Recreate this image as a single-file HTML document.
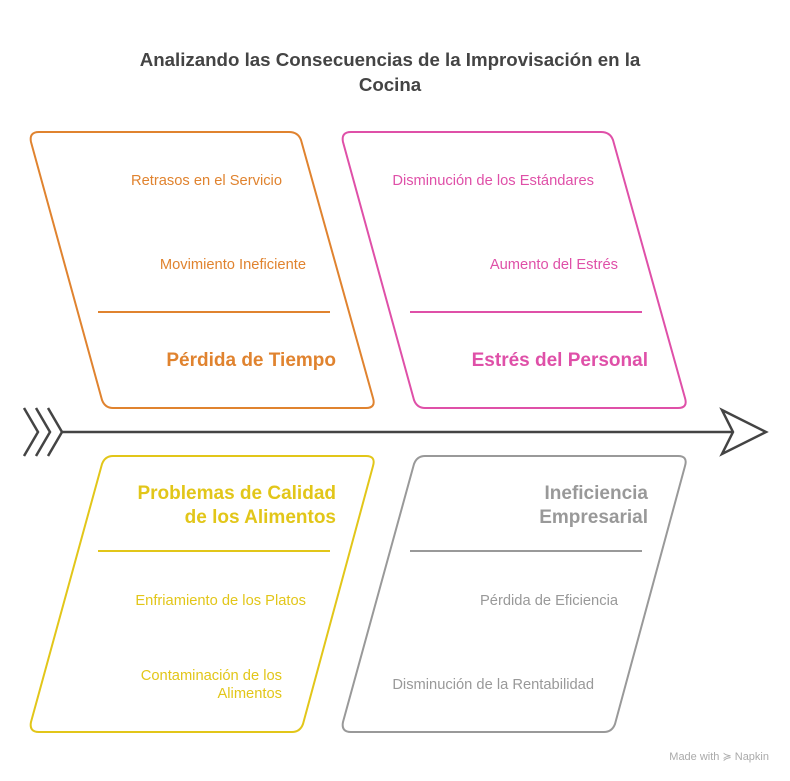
<!DOCTYPE html>
<html><head><meta charset="utf-8"><style>
html,body{margin:0;padding:0;background:#fff;}
svg{display:block;font-family:"Liberation Sans",Arial,sans-serif;}
</style></head><body>
<svg width="790" height="781" viewBox="0 0 790 781" xmlns="http://www.w3.org/2000/svg">
<text x="390" y="66" text-anchor="middle" font-size="18.7" font-weight="bold" fill="#444">Analizando las Consecuencias de la Improvisación en la</text>
<text x="390" y="91" text-anchor="middle" font-size="18.7" font-weight="bold" fill="#444">Cocina</text>

<g fill="none" stroke-width="2" stroke-linejoin="round">
<path d="M39 132 L289 132 Q298 132 301 140 L373 398 Q376 408 366 408 L113 408 Q105 408 102 400 L31 142 Q29 132 39 132 Z" stroke="#E0832F"/>
<path d="M351 132 L601 132 Q610 132 613 140 L685 398 Q688 408 678 408 L425 408 Q417 408 414 400 L343 142 Q341 132 351 132 Z" stroke="#DF50A8"/>
<path d="M113 456 L366 456 Q376 456 373 466 L303 724 Q300 732 292 732 L39 732 Q29 732 31 722 L102 464 Q105 456 113 456 Z" stroke="#E2C619"/>
<path d="M425 456 L678 456 Q688 456 685 466 L615 724 Q612 732 604 732 L351 732 Q341 732 343 722 L414 464 Q417 456 425 456 Z" stroke="#999"/>
</g>
<g stroke-width="2">
<line x1="98" y1="312" x2="330" y2="312" stroke="#E0832F"/>
<line x1="410" y1="312" x2="642" y2="312" stroke="#DF50A8"/>
<line x1="98" y1="551" x2="330" y2="551" stroke="#E2C619"/>
<line x1="410" y1="551" x2="642" y2="551" stroke="#999"/>
</g>
<g stroke="#444" stroke-width="2.5" fill="none">
<line x1="62" y1="432" x2="733" y2="432"/>
<polyline points="24,408 38,432 24,456"/>
<polyline points="36,408 50,432 36,456"/>
<polyline points="48,408 62,432 48,456"/>
<polygon points="722,410 766,432 722,454 733,432" fill="#fff" stroke-linejoin="miter"/>
</g>
<g font-size="14.7" text-anchor="end">
<text x="282" y="185" fill="#E0832F">Retrasos en el Servicio</text>
<text x="306" y="269" fill="#E0832F">Movimiento Ineficiente</text>
<text x="336" y="366" fill="#E0832F" font-size="19" font-weight="bold">Pérdida de Tiempo</text>
<text x="594" y="185" fill="#DF50A8">Disminución de los Estándares</text>
<text x="618" y="269" fill="#DF50A8">Aumento del Estrés</text>
<text x="648" y="366" fill="#DF50A8" font-size="19" font-weight="bold">Estrés del Personal</text>
<text x="336" y="499" fill="#E2C619" font-size="19" font-weight="bold">Problemas de Calidad</text>
<text x="336" y="523" fill="#E2C619" font-size="19" font-weight="bold">de los Alimentos</text>
<text x="306" y="605" fill="#E2C619">Enfriamiento de los Platos</text>
<text x="282" y="680" fill="#E2C619">Contaminación de los</text>
<text x="282" y="698" fill="#E2C619">Alimentos</text>
<text x="648" y="499" fill="#999" font-size="19" font-weight="bold">Ineficiencia</text>
<text x="648" y="523" fill="#999" font-size="19" font-weight="bold">Empresarial</text>
<text x="618" y="605" fill="#999">Pérdida de Eficiencia</text>
<text x="594" y="689" fill="#999">Disminución de la Rentabilidad</text>
</g>
<text x="769" y="760" text-anchor="end" font-size="11" fill="#aaa">Made with ≽ Napkin</text>
</svg>
</body></html>
